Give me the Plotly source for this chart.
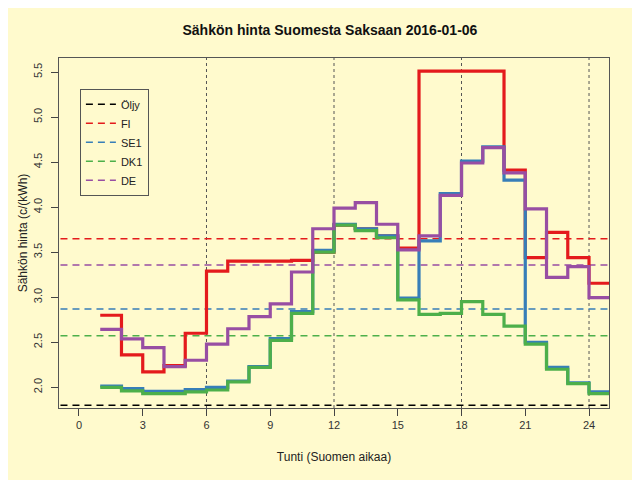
import plotly.graph_objects as go

# tunnit 1..24, viimeinen arvo toistetaan oikeaan reunaan asti
hours = list(range(1, 26))

fi = [2.80, 2.36, 2.17, 2.24, 2.60, 3.29, 3.40, 3.40, 3.40, 3.41, 3.50, 3.80,
      3.76, 3.68, 3.545, 5.51, 5.51, 5.51, 5.51, 4.41, 3.44, 3.72, 3.44, 3.155]
se1 = [2.014, 1.985, 1.955, 1.955, 1.975, 2.00, 2.07, 2.23, 2.54, 2.84, 3.52, 3.81,
       3.76, 3.68, 2.99, 3.625, 4.15, 4.51, 4.67, 4.30, 2.50, 2.22, 2.05, 1.95]
dk1 = [2.00, 1.96, 1.93, 1.93, 1.95, 1.97, 2.06, 2.22, 2.52, 2.82, 3.50, 3.80,
       3.74, 3.66, 2.97, 2.81, 2.82, 2.95, 2.81, 2.68, 2.48, 2.20, 2.04, 1.93]
de = [2.644, 2.537, 2.44, 2.23, 2.30, 2.48, 2.65, 2.785, 2.925, 3.28, 3.76, 3.99,
      4.05, 3.81, 3.525, 3.68, 4.13, 4.49, 4.66, 4.38, 3.98, 3.22, 3.34, 2.995]

names = ["Öljy", "FI", "SE1", "DK1", "DE"]
colors = ["#000000", "#E41A1C", "#377EB8", "#4DAF4A", "#984EA3"]
means = [1.80, 3.648, 2.870, 2.573, 3.359]

x_ticks = list(range(0, 25, 3))
y_ticks = [2.0, 2.5, 3.0, 3.5, 4.0, 4.5, 5.0, 5.5]
grid_hours = [6, 12, 18, 24]

bg = "#FFFACD"
font = "Liberation Sans, Arial, sans-serif"

fig = go.Figure()

# keskiarvoviivat (katkoviiva) + selite
for name, col, m in zip(names, colors, means):
    fig.add_trace(go.Scatter(x=[-2, 27], y=[m, m], mode="lines", name=name,
                             line=dict(color=col, width=1.5, dash="7px,5px")))

series = [fi, se1, dk1, de]
for vals, col in zip(series, colors[1:]):
    fig.add_trace(go.Scatter(x=hours, y=vals + [vals[-1]], mode="lines",
                             line=dict(color=col, width=3.2, shape="hv"),
                             showlegend=False, hoverinfo="skip"))

for h in grid_hours:
    fig.add_shape(type="line", xref="x", yref="paper", x0=h, x1=h, y0=0, y1=1,
                  line=dict(color="#555555", width=1, dash="dot"), layer="below")

# sivulla on 8px body-marginaali, siksi marginaalit on siirretty
fig.update_layout(
    width=640, height=480,
    paper_bgcolor=bg, plot_bgcolor=bg,
    margin=dict(l=51, r=39, t=50, b=80),
    font=dict(family=font, size=12, color="#222222"),
    title=dict(text="<b>Sähkön hinta Suomesta Saksaan 2016-01-06</b>",
               x=0.503, xanchor="center", y=0.954, yanchor="middle",
               font=dict(size=14, color="#111111")),
    legend=dict(x=0.038, y=0.912, xanchor="left", yanchor="top",
                bgcolor=bg, bordercolor="#555555", borderwidth=1,
                font=dict(size=11), tracegroupgap=0, itemwidth=30),
    showlegend=True,
)

fig.update_xaxes(range=[-0.94, 24.94], tickvals=x_ticks, ticks="outside", ticklen=7,
                 tickcolor="#444444", showgrid=False, zeroline=False,
                 showline=True, linecolor="#555555", mirror=True,
                 tickfont=dict(size=11, color="#333333"),
                 title=dict(text="Tunti (Suomen aikaa)", font=dict(size=12), standoff=22))
fig.update_yaxes(range=[1.77, 5.656], tickvals=y_ticks, tickformat=".1f",
                 ticks="outside", ticklen=7, tickcolor="#444444", tickangle=-90,
                 ticklabelstandoff=5,
                 showgrid=False, zeroline=False,
                 showline=True, linecolor="#555555", mirror=True,
                 tickfont=dict(size=11, color="#333333"),
                 title=dict(text="Sähkön hinta (c/(kWh)", font=dict(size=12), standoff=1))

fig.write_html("out.html")
